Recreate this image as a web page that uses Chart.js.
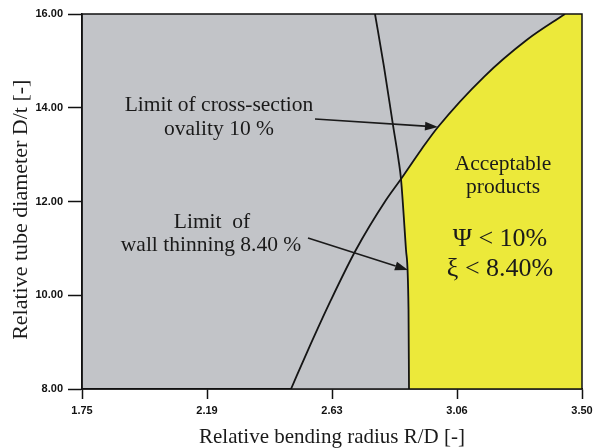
<!DOCTYPE html>
<html>
<head>
<meta charset="utf-8">
<script src="https://cdn.jsdelivr.net/npm/chart.js@4.4.1/dist/chart.umd.min.js"></script>
<style>
  body { margin: 0; background: #fff; }
  #grafico { display: block; }
</style>
</head>
<body>
<canvas id="grafico" width="598" height="448"></canvas>
<script>
// limit of cross-section ovality 10 %
const ovalidadeR  = [2.4815, 2.541, 2.6215, 2.709, 2.814, 2.8665, 2.9365, 2.996, 3.157, 3.3075, 3.4405]
const ovalidadeDt = [8.00, 8.83, 9.90, 10.97, 12.03, 12.48, 13.10, 13.59, 14.66, 15.45, 16.00]

// limit of wall thinning 8.40 %
const afinamentoR  = [2.7755, 2.807, 2.8385, 2.8578, 2.8665, 2.884, 2.8928, 2.8945]
const afinamentoDt = [16.00, 14.87, 13.63, 12.89, 12.48, 10.97, 9.69, 8.00]

// where both limits cross
const cruzamentoDt = 12.48

const xTicks = [1.75, 2.1875, 2.625, 3.0625, 3.50]
const xTickLabels = ['1.75', '2.19', '2.63', '3.06', '3.50']
const yTicks = [8, 10, 12, 14, 16]

const xMin = 1.75, xMax = 3.50, yMin = 8, yMax = 16

const cinza = 'rgb(194, 196, 200)'
const amarelo = 'rgb(236, 233, 58)'
const serif = '"Liberation Serif", "Times New Roman", serif'

function pontos(xs, ys) {
  return xs.map((x, i) => ({ x: x, y: ys[i] }))
}

const curvaOvalidade = pontos(ovalidadeR, ovalidadeDt)
const curvaAfinamento = pontos(afinamentoR, afinamentoDt)
// ovality limit up to the crossing, everything below it is rejected
const ovalidadeAteCruzamento = curvaOvalidade.filter(p => p.y <= cruzamentoDt)
// strip right of the ovality curve end, up to the right frame
const faixaFinal = [curvaOvalidade[curvaOvalidade.length - 1], { x: xMax, y: yMax }]

const fundo = {
  id: 'fundo',
  beforeDraw(chart) {
    const { ctx, chartArea } = chart
    ctx.save()
    ctx.fillStyle = cinza
    ctx.fillRect(chartArea.left, chartArea.top, chartArea.width, chartArea.height)
    ctx.restore()
  },
  afterDatasetsDraw(chart) {
    const { ctx, chartArea } = chart
    ctx.save()
    ctx.strokeStyle = '#111'
    ctx.lineWidth = 1.5
    ctx.strokeRect(chartArea.left, chartArea.top, chartArea.width, chartArea.height)
    ctx.restore()
  }
}

const textos = [
  { t: 'Limit of cross-section', x: 2.2295, y: 14.06, size: 21.5 },
  { t: 'ovality 10 %', x: 2.2295, y: 13.53, size: 21.5 },
  { t: 'Limit  of', x: 2.205, y: 11.56, size: 21.5 },
  { t: 'wall thinning 8.40 %', x: 2.2015, y: 11.07, size: 21.5 },
  { t: 'Acceptable', x: 3.2235, y: 12.80, size: 21.5 },
  { t: 'products', x: 3.2235, y: 12.31, size: 21.5 },
  { t: 'Ψ < 10%', x: 3.213, y: 11.20, size: 26 },
  { t: 'ξ < 8.40%', x: 3.213, y: 10.56, size: 26 }
]

const setas = [
  { de: [2.5655, 13.76], para: [2.996, 13.59] },
  { de: [2.541, 11.22], para: [2.891, 10.54] }
]

const anotacoes = {
  id: 'anotacoes',
  afterDraw(chart) {
    const { ctx } = chart
    const sx = chart.scales.x, sy = chart.scales.y
    ctx.save()
    ctx.fillStyle = '#1a1a1a'
    ctx.textAlign = 'center'
    ctx.textBaseline = 'middle'
    textos.forEach(a => {
      ctx.font = a.size + 'px ' + serif
      ctx.fillText(a.t, sx.getPixelForValue(a.x), sy.getPixelForValue(a.y))
    })
    ctx.strokeStyle = '#1a1a1a'
    ctx.lineWidth = 1.6
    setas.forEach(s => {
      const x1 = sx.getPixelForValue(s.de[0]), y1 = sy.getPixelForValue(s.de[1])
      const x2 = sx.getPixelForValue(s.para[0]), y2 = sy.getPixelForValue(s.para[1])
      const ang = Math.atan2(y2 - y1, x2 - x1)
      const tam = 13, larg = 4.5
      const bx = x2 - tam * Math.cos(ang), by = y2 - tam * Math.sin(ang)
      ctx.beginPath()
      ctx.moveTo(x1, y1)
      ctx.lineTo(bx, by)
      ctx.stroke()
      ctx.beginPath()
      ctx.moveTo(x2, y2)
      ctx.lineTo(bx + larg * Math.sin(ang), by - larg * Math.cos(ang))
      ctx.lineTo(bx - larg * Math.sin(ang), by + larg * Math.cos(ang))
      ctx.closePath()
      ctx.fill()
    })
    ctx.restore()
  }
}

function preenchimento(dados, cor, ordem) {
  return {
    data: dados,
    showLine: true,
    borderWidth: 0,
    pointRadius: 0,
    cubicInterpolationMode: 'monotone',
    backgroundColor: cor,
    fill: 'start',
    order: ordem
  }
}

function limite(label, dados) {
  return {
    label: label,
    data: dados,
    showLine: true,
    borderColor: '#151515',
    borderWidth: 1.8,
    pointRadius: 0,
    cubicInterpolationMode: 'monotone',
    fill: false,
    order: 0
  }
}

const grafico = document.getElementById('grafico')

new Chart(grafico, {
  type: 'scatter',
  data: {
    datasets: [
      limite('Limit of cross-section ovality 10 %', curvaOvalidade),
      limite('Limit of wall thinning 8.40 %', curvaAfinamento),
      preenchimento(curvaAfinamento, cinza, 2),
      preenchimento(ovalidadeAteCruzamento, cinza, 2),
      preenchimento(curvaOvalidade, amarelo, 3),
      preenchimento(faixaFinal, amarelo, 3)
    ]
  },
  options: {
    responsive: false,
    animation: false,
    layout: { padding: { top: 14, right: 16, left: 0, bottom: 0 } },
    plugins: {
      legend: { display: false },
      tooltip: { enabled: false }
    },
    scales: {
      x: {
        type: 'linear',
        min: xMin,
        max: xMax,
        afterBuildTicks: scale => { scale.ticks = xTicks.map(v => ({ value: v })) },
        afterFit: scale => { scale.height = 59 },
        ticks: {
          callback: (v, i) => xTickLabels[i],
          color: '#111',
          font: { family: '"Liberation Sans", Arial, sans-serif', size: 11, weight: 'bold' },
          padding: 5,
          maxRotation: 0,
          autoSkip: false
        },
        grid: { drawOnChartArea: false, tickLength: 10, tickWidth: 1.5, tickColor: '#111' },
        border: { display: true, color: '#111', width: 1.5 },
        title: {
          display: true,
          text: 'Relative bending radius R/D [-]',
          color: '#1a1a1a',
          font: { family: serif, size: 21, lineHeight: 1 },
          padding: { top: 0, bottom: 0 }
        }
      },
      y: {
        type: 'linear',
        min: yMin,
        max: yMax,
        afterBuildTicks: scale => { scale.ticks = yTicks.map(v => ({ value: v })) },
        afterFit: scale => { scale.width = 82 },
        ticks: {
          callback: v => v.toFixed(2),
          color: '#111',
          font: { family: '"Liberation Sans", Arial, sans-serif', size: 11, weight: 'bold' },
          padding: 5
        },
        grid: { drawOnChartArea: false, tickLength: 14, tickWidth: 1.5, tickColor: '#111' },
        border: { display: true, color: '#111', width: 1.5 },
        title: {
          display: true,
          text: 'Relative tube diameter D/t [-]\u00a0\u00a0\u00a0',
          color: '#1a1a1a',
          font: { family: serif, size: 22, lineHeight: 1 },
          padding: { top: 10, bottom: 0 }
        }
      }
    }
  },
  plugins: [fundo, anotacoes]
})
</script>
</body>
</html>
